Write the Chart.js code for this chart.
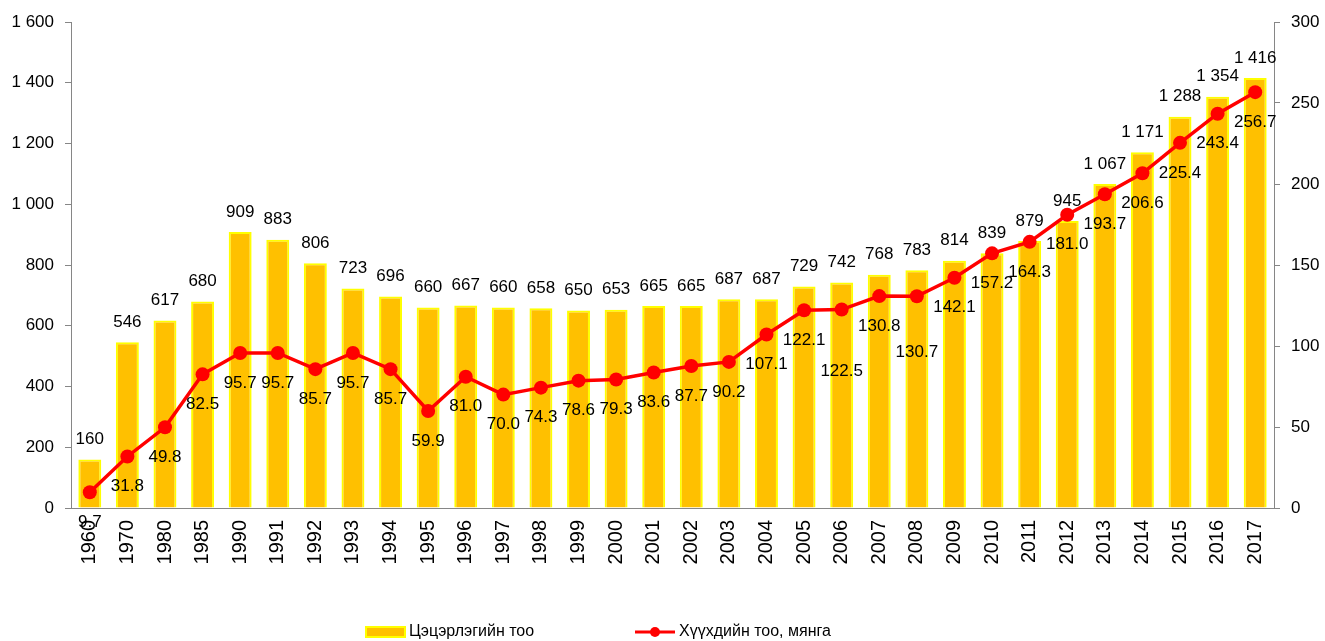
<!DOCTYPE html>
<html>
<head>
<meta charset="utf-8">
<script src="https://cdn.jsdelivr.net/npm/chart.js@4/dist/chart.umd.min.js"></script>
<style>
  html, body { margin: 0; padding: 0; background: #ffffff; }
  #wrap { width: 1325px; height: 641px; position: relative; }
</style>
</head>
<body>
<div id="wrap"><canvas id="c" width="1325" height="641"></canvas></div>
<script>
// ---- data ----
const years = ['1960','1970','1980','1985','1990','1991','1992','1993','1994','1995','1996','1997','1998','1999','2000','2001','2002','2003','2004','2005','2006','2007','2008','2009','2010','2011','2012','2013','2014','2015','2016','2017'];
const kindergartens = [160,546,617,680,909,883,806,723,696,660,667,660,658,650,653,665,665,687,687,729,742,768,783,814,839,879,945,1067,1171,1288,1354,1416];
const children = [9.7,31.8,49.8,82.5,95.7,95.7,85.7,95.7,85.7,59.9,81.0,70.0,74.3,78.6,79.3,83.6,87.7,90.2,107.1,122.1,122.5,130.8,130.7,142.1,157.2,164.3,181.0,193.7,206.6,225.4,243.4,256.7];
const leftTicks = [0,200,400,600,800,1000,1200,1400,1600];
const rightTicks = [0,50,100,150,200,250,300];
const barName = 'Цэцэрлэгийн тоо';
const lineName = 'Хүүхдийн тоо, мянга';

// ---- style ----
const FONT = '"Liberation Sans", Arial, sans-serif';
const BAR_FILL = '#FFC000', BAR_EDGE = '#FFFF00', LINE_COL = '#FF0000', AXIS_COL = '#868686';
const extraLineLabelDrop = { '2006': 32, '2008': 26 };

function fmt(v) { return String(v).replace(/\B(?=(\d{3})+(?!\d))/g, ' '); }

const labelPlugin = {
  id: 'valueLabels',
  afterDatasetsDraw(chart) {
    const ctx = chart.ctx;
    ctx.save();
    ctx.font = '17px ' + FONT;
    ctx.fillStyle = '#000';
    ctx.textAlign = 'center';
    ctx.textBaseline = 'middle';
    const barMeta = chart.getDatasetMeta(0);
    barMeta.data.forEach((el, i) => {
      ctx.fillText(fmt(kindergartens[i]), el.x, el.y - 20);
    });
    const lineMeta = chart.getDatasetMeta(1);
    lineMeta.data.forEach((el, i) => {
      const extra = extraLineLabelDrop[years[i]] || 0;
      ctx.fillText(children[i].toFixed(1), el.x, el.y + 30 + extra);
    });
    ctx.restore();
  },
  afterDraw(chart) {
    const ctx = chart.ctx;
    ctx.save();
    const ly = 632;
    // bar legend
    ctx.fillStyle = BAR_FILL;
    ctx.fillRect(366, ly - 5, 39, 10);
    ctx.strokeStyle = BAR_EDGE;
    ctx.lineWidth = 2;
    ctx.strokeRect(366, ly - 5, 39, 10);
    ctx.fillStyle = '#000';
    ctx.font = '16px ' + FONT;
    ctx.textAlign = 'left';
    ctx.textBaseline = 'middle';
    ctx.fillText(barName, 409, ly);
    // line legend
    ctx.strokeStyle = LINE_COL;
    ctx.lineWidth = 3;
    ctx.beginPath(); ctx.moveTo(635, ly); ctx.lineTo(675, ly); ctx.stroke();
    ctx.fillStyle = LINE_COL;
    ctx.beginPath(); ctx.arc(655, ly, 5, 0, Math.PI * 2); ctx.fill();
    ctx.fillStyle = '#000';
    ctx.fillText(lineName, 679, ly);
    ctx.restore();
  }
};

new Chart(document.getElementById('c'), {
  type: 'bar',
  data: {
    labels: years,
    datasets: [
      {
        type: 'bar',
        label: barName,
        data: kindergartens,
        yAxisID: 'y',
        backgroundColor: BAR_FILL,
        borderColor: BAR_EDGE,
        borderWidth: 2,
        barPercentage: 0.61,
        categoryPercentage: 1.0,
        order: 1
      },
      {
        type: 'line',
        label: lineName,
        data: children,
        yAxisID: 'y1',
        borderColor: LINE_COL,
        borderWidth: 3.5,
        pointRadius: 7,
        pointBackgroundColor: LINE_COL,
        pointBorderColor: LINE_COL,
        pointBorderWidth: 0,
        tension: 0,
        order: 0
      }
    ]
  },
  options: {
    responsive: false,
    animation: false,
    devicePixelRatio: 1,
    layout: { padding: { top: 22, left: 0, right: 0, bottom: 0 } },
    plugins: { legend: { display: false }, tooltip: { enabled: false } },
    scales: {
      x: {
        offset: true,
        grid: { display: true, drawOnChartArea: false, drawTicks: false },
        border: { display: true, color: AXIS_COL, width: 1 },
        ticks: { color: '#000', font: { family: FONT, size: 20 }, minRotation: 90, maxRotation: 90, padding: 12, autoSkip: false },
        afterFit(s) { s.height = 133; }
      },
      y: {
        position: 'left',
        min: 0, max: 1600,
        afterBuildTicks(s) { s.ticks = leftTicks.map(v => ({ value: v })); },
        grid: { display: true, drawOnChartArea: false, drawTicks: true, tickLength: 6, color: AXIS_COL },
        border: { display: true, color: AXIS_COL, width: 1 },
        ticks: { color: '#000', font: { family: FONT, size: 17 }, padding: 11, callback: v => fmt(v) },
        afterFit(s) { s.width = 71; }
      },
      y1: {
        position: 'right',
        min: 0, max: 300,
        afterBuildTicks(s) { s.ticks = rightTicks.map(v => ({ value: v })); },
        grid: { display: true, drawOnChartArea: false, drawTicks: true, tickLength: 6, color: AXIS_COL },
        border: { display: true, color: AXIS_COL, width: 1 },
        ticks: { color: '#000', font: { family: FONT, size: 17 }, padding: 11, callback: v => fmt(v) },
        afterFit(s) { s.width = 51; }
      }
    }
  },
  plugins: [labelPlugin]
});
</script>
</body>
</html>
